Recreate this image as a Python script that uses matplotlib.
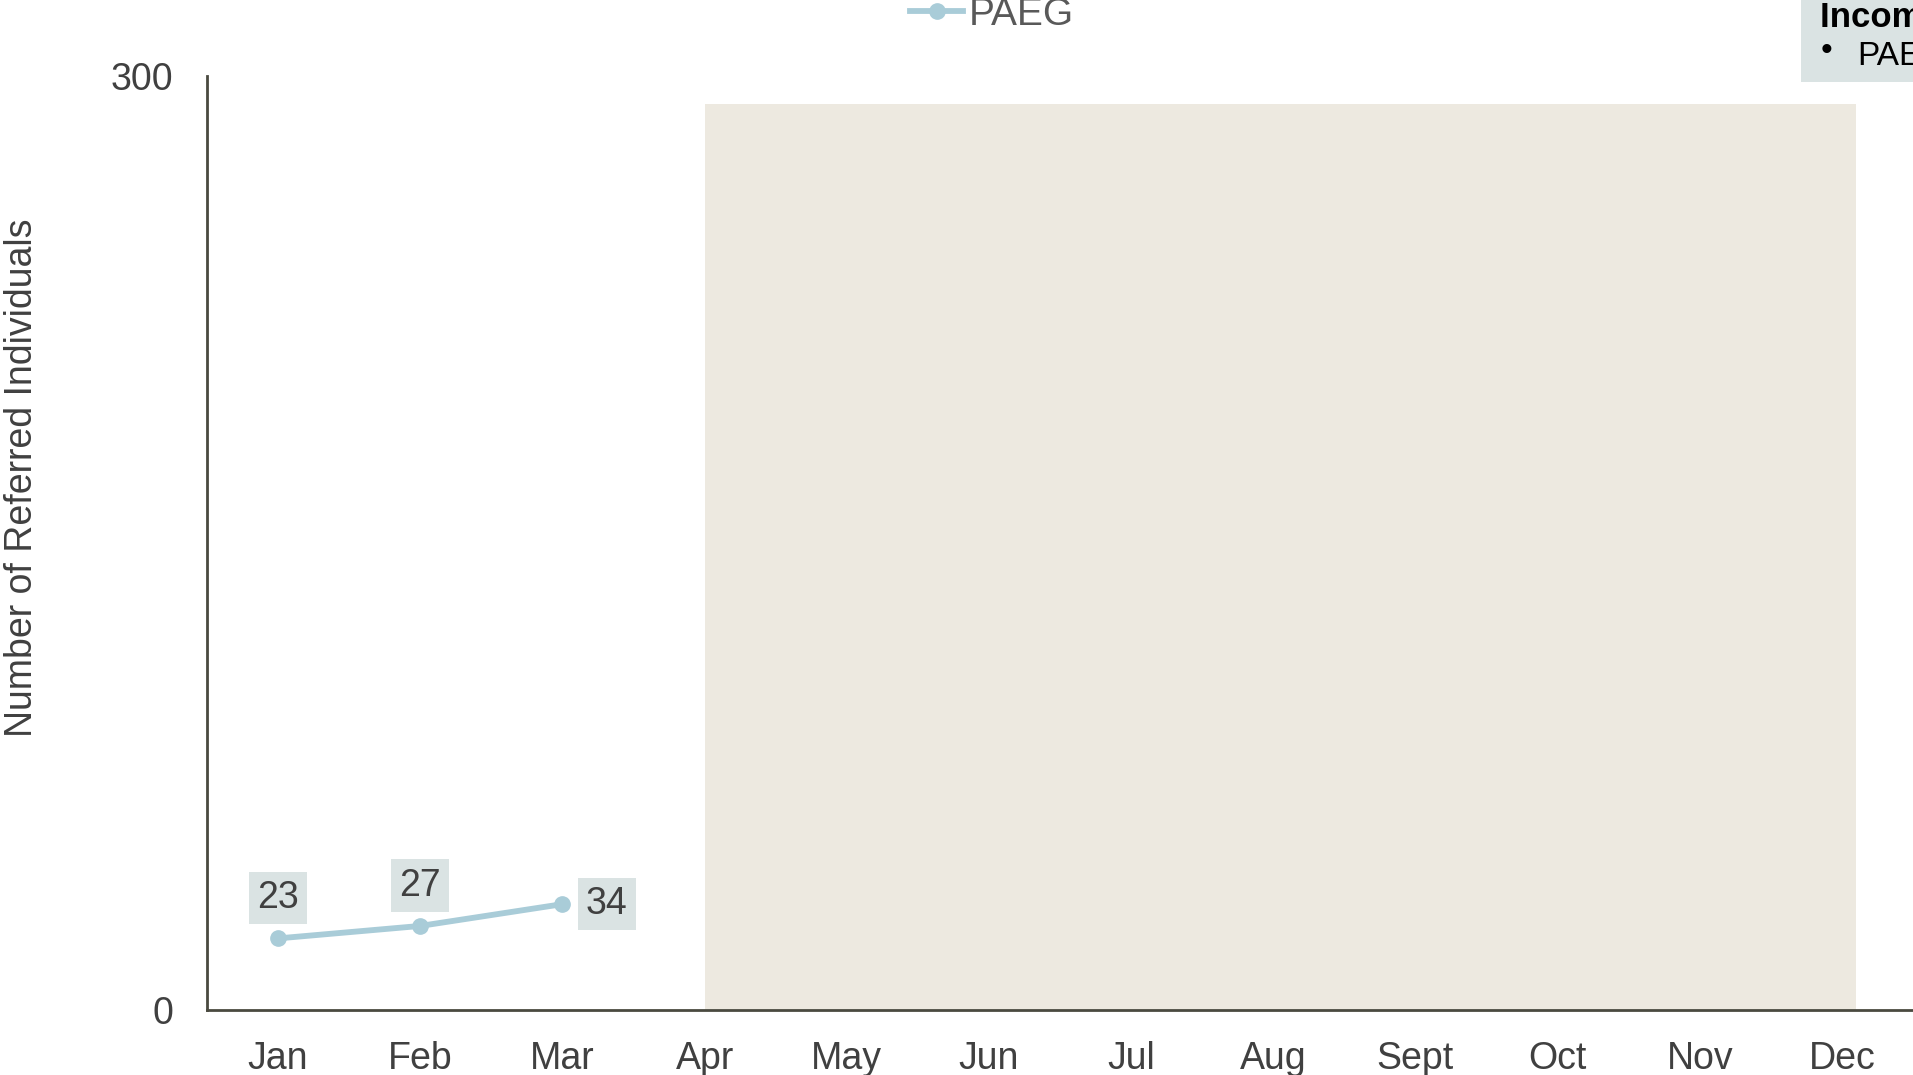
import matplotlib
matplotlib.use('Agg')
import matplotlib.pyplot as plt
from matplotlib.patches import Rectangle

months = ['Jan', 'Feb', 'Mar', 'Apr', 'May', 'Jun', 'Jul', 'Aug', 'Sept', 'Oct', 'Nov', 'Dec']
paeg = [23, 27, 34]
incomplete_start = 3
incomplete_end = 11.1
incomplete_height = 291
y_ticks = [0, 300]

plt.rcParams['font.family'] = ['Liberation Sans', 'DejaVu Sans']

W, H = 1913, 1075
fig = plt.figure(figsize=(W / 100, H / 100), dpi=100)
ax = fig.add_axes([207 / W, 1 - 1010 / H, 1 - 207 / W, (1010 - 76) / H])

# shaded block for months with incomplete data
ax.add_patch(Rectangle((incomplete_start, 0), incomplete_end - incomplete_start, incomplete_height,
                       facecolor='#EDE9E0', edgecolor='none', zorder=0))

x = list(range(len(paeg)))
ax.plot(x, paeg, color='#A9CCD8', lw=4.2, marker='o', ms=11, label='PAEG', zorder=3)

box = dict(boxstyle='square,pad=0.22', facecolor='#DAE3E3', edgecolor='none')
offsets = [(0, 29), (0, 29), (32, 0)]
for xi, v, off in zip(x, paeg, offsets):
    ax.annotate(str(v), (xi, v), xytext=off, textcoords='offset points',
                ha='center', va='center', fontsize=27, color='#404040', bbox=box)

ax.set_xlim(-0.5, 11.5)
ax.set_ylim(0, 300)
ax.set_xticks(range(len(months)))
ax.set_xticklabels(months)
ax.set_yticks(y_ticks)
ax.tick_params(length=0, labelsize=27, labelcolor='#404040')
ax.tick_params(axis='x', pad=22)
ax.tick_params(axis='y', pad=24)
for s in ['top', 'right']:
    ax.spines[s].set_visible(False)
for s in ['left', 'bottom']:
    ax.spines[s].set_color('#4A4A40')
    ax.spines[s].set_linewidth(2)

ax.set_ylabel('Number of Referred Individuals', fontsize=27, color='#404040')
ax.yaxis.set_label_coords(-167 / 1706, 0.57)

ax.legend(loc='center', bbox_to_anchor=(992 / W, 1 - 15 / H), bbox_transform=fig.transFigure,
          frameon=False, fontsize=28, labelcolor='#595959', handlelength=1.35, handletextpad=0.15)

# "Incomplete Data" note, cut off at the right edge as in the original
fig.patches.append(Rectangle((1801 / W, 1 - 82 / H), 200 / W, 82 / H, transform=fig.transFigure,
                             facecolor='#DAE3E3', edgecolor='none'))
fig.text(1820 / W, 1 - 27 / H, 'Incomplete Data:', fontsize=25, fontweight='bold',
         va='baseline', ha='left', color='black')
fig.text(1821 / W, 1 - 60 / H, '\u2022', fontsize=24, va='baseline', ha='left', color='black')
fig.text(1857 / W, 1 - 65 / H, 'PAEG', fontsize=24, va='baseline', ha='left', color='black')

fig.savefig('out.png', dpi=100)
